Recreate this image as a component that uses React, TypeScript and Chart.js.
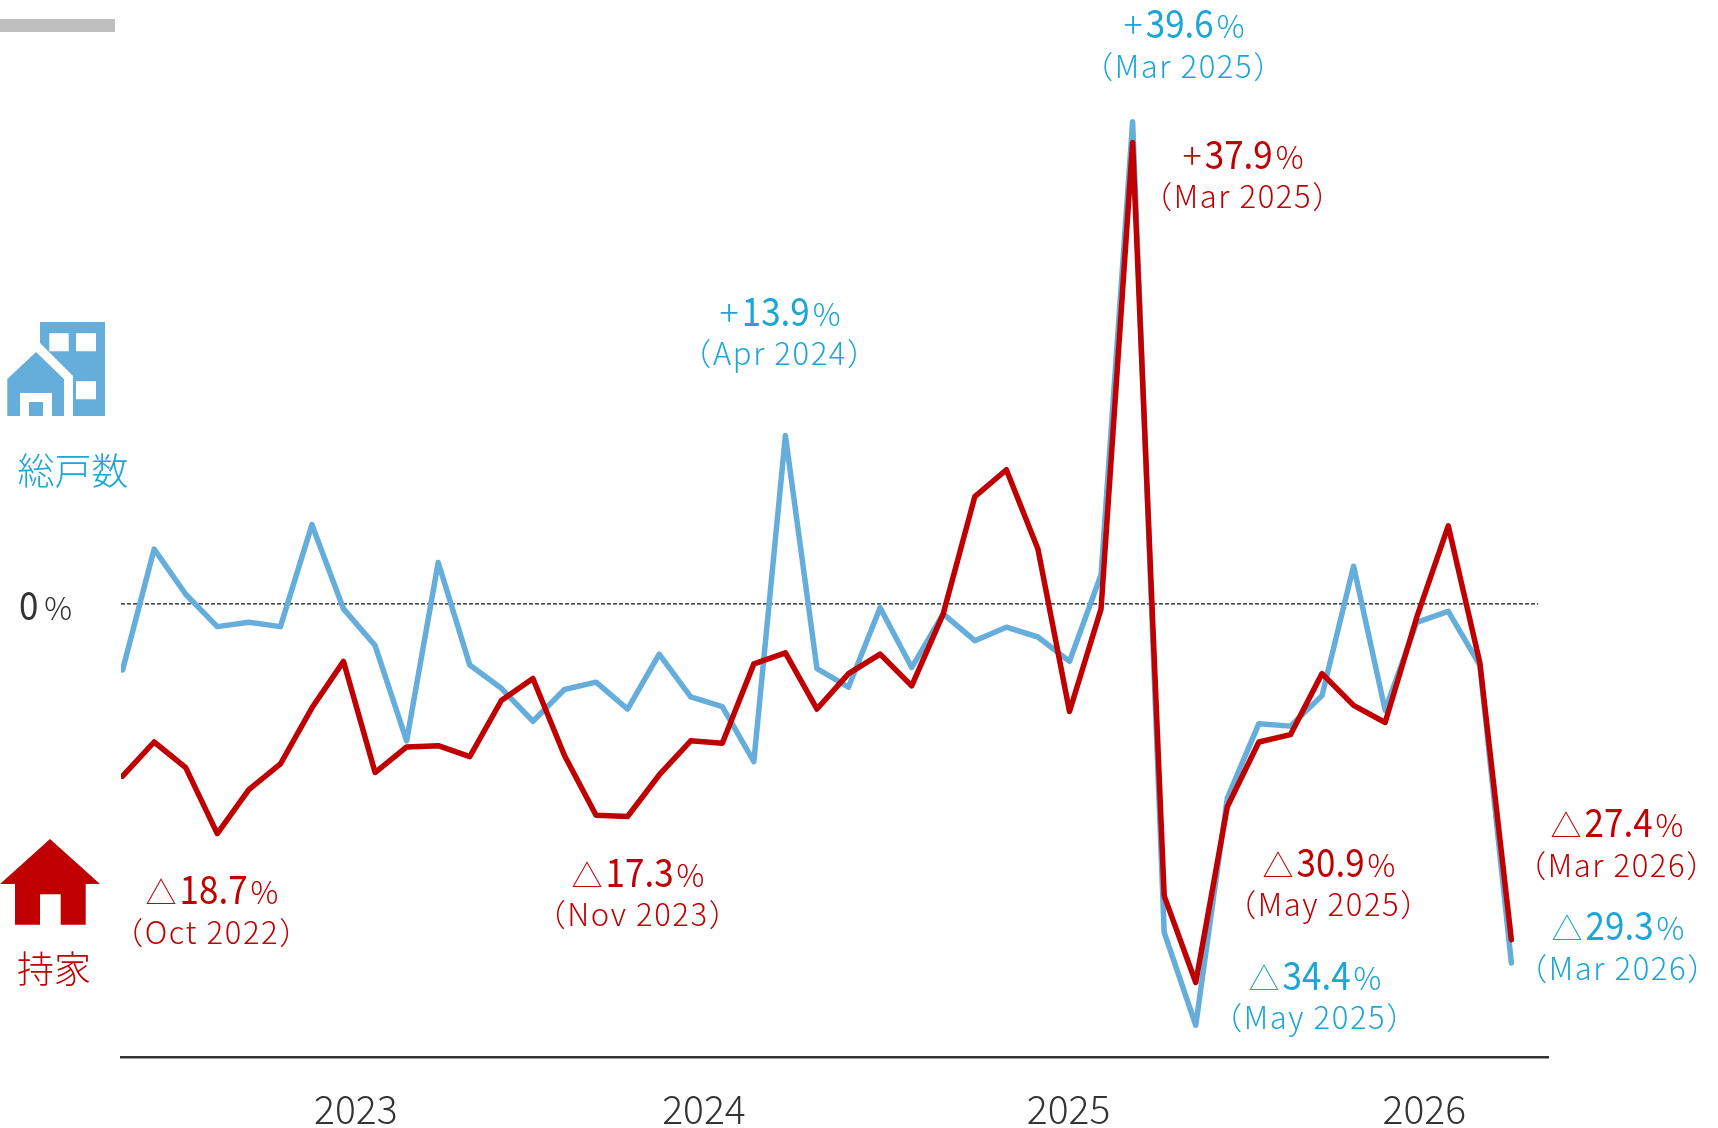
import React, { useEffect, useRef } from "react";
import { Chart, registerables } from "chart.js";

Chart.register(...registerables);

const months = [
  "Jul 2022","Aug 2022","Sep 2022","Oct 2022","Nov 2022","Dec 2022",
  "Jan 2023","Feb 2023","Mar 2023","Apr 2023","May 2023","Jun 2023","Jul 2023","Aug 2023","Sep 2023","Oct 2023","Nov 2023","Dec 2023",
  "Jan 2024","Feb 2024","Mar 2024","Apr 2024","May 2024","Jun 2024","Jul 2024","Aug 2024","Sep 2024","Oct 2024","Nov 2024","Dec 2024",
  "Jan 2025","Feb 2025","Mar 2025","Apr 2025","May 2025","Jun 2025","Jul 2025","Aug 2025","Sep 2025","Oct 2025","Nov 2025","Dec 2025",
  "Jan 2026","Feb 2026","Mar 2026",
];
const totalUnits = [
  -5.3,4.6,0.9,-1.75,-1.4,-1.75,6.6,-0.3,-3.3,-11.1,3.5,-4.9,-6.8,-9.5,-6.9,-6.3,-8.5,-4.0,-7.5,-8.3,-12.8,13.9,-5.2,-6.7,-0.2,-5.1,-0.7,-2.9,-1.8,-2.6,-4.6,2.5,39.6,-26.8,-34.4,-15.8,-9.7,-9.9,-7.4,3.2,-8.6,-1.4,-0.5,-4.9,-29.3,
];
const ownerOccupied = [
  -14.0,-11.2,-13.3,-18.7,-15.1,-13.0,-8.4,-4.6,-13.7,-11.6,-11.5,-12.4,-7.8,-6.0,-12.3,-17.2,-17.3,-13.9,-11.1,-11.3,-4.8,-3.9,-8.5,-5.6,-4.0,-6.6,-0.7,8.9,11.1,4.6,-8.7,-0.3,37.9,-23.8,-30.9,-16.5,-11.2,-10.6,-5.6,-8.2,-9.6,-1.0,6.5,-4.7,-27.4,
];
const yearLabels = ["2023", "2024", "2025", "2026"];
const yearTickMonths = [7.39, 18.42, 29.97, 41.24];

const BLUE_LINE = "#65AEDC";
const BLUE_TEXT = "#1AA6D6";
const RED = "#C00000";
const DARK = "#333333";
const FONT = '"Noto Sans CJK JP", "Noto Sans", sans-serif';

type Note = { prefix: string; value: string; date: string; color: string; cx: number; y1: number; y2: number };
const notes: Note[] = [
  { prefix: "+", value: "39.6", date: "（Mar 2025）", color: BLUE_TEXT, cx: 1184, y1: 26, y2: 67 },
  { prefix: "+", value: "37.9", date: "（Mar 2025）", color: RED, cx: 1243, y1: 157, y2: 197 },
  { prefix: "+", value: "13.9", date: "（Apr 2024）", color: BLUE_TEXT, cx: 780, y1: 314, y2: 354 },
  { prefix: "△", value: "18.7", date: "（Oct 2022）", color: RED, cx: 212, y1: 892, y2: 933 },
  { prefix: "△", value: "17.3", date: "（Nov 2023）", color: RED, cx: 638, y1: 875, y2: 915 },
  { prefix: "△", value: "30.9", date: "（May 2025）", color: RED, cx: 1329, y1: 865, y2: 905 },
  { prefix: "△", value: "34.4", date: "（May 2025）", color: BLUE_TEXT, cx: 1315, y1: 978, y2: 1018 },
  { prefix: "△", value: "27.4", date: "（Mar 2026）", color: RED, cx: 1617, y1: 825, y2: 866 },
  { prefix: "△", value: "29.3", date: "（Mar 2026）", color: BLUE_TEXT, cx: 1618, y1: 928, y2: 969 },
];

type Run = { t: string; font: string; yScale?: number };

function drawRuns(ctx: CanvasRenderingContext2D, runs: Run[], cx: number, y: number, color: string, gap: number) {
  ctx.fillStyle = color;
  ctx.textAlign = "left";
  ctx.textBaseline = "alphabetic";
  let w = gap * (runs.length - 1);
  for (const r of runs) {
    ctx.font = r.font;
    w += ctx.measureText(r.t).width;
  }
  let x = cx - w / 2;
  for (const r of runs) {
    ctx.font = r.font;
    ctx.save();
    ctx.translate(x, y);
    ctx.scale(1, r.yScale ?? 1);
    ctx.fillText(r.t, 0, 0);
    ctx.restore();
    ctx.font = r.font;
    x += ctx.measureText(r.t).width + gap;
  }
}

const notesPlugin = {
  id: "notes",
  afterDatasetsDraw(chart: any) {
    const ctx = chart.ctx as CanvasRenderingContext2D;
    ctx.save();
    const big = `400 35px ${FONT}`;
    const small = `300 31px ${FONT}`;
    const plus = `300 36px ${FONT}`;
    const date = `300 31px ${FONT}`;
    for (const n of notes) {
      drawRuns(
        ctx,
        [
          { t: n.prefix, font: n.prefix === "+" ? plus : small },
          { t: n.value, font: big, yScale: 1.13 },
          { t: "%", font: small },
        ],
        n.cx,
        n.y1 + 12,
        n.color,
        3,
      );
      ctx.textAlign = "center";
      ctx.textBaseline = "alphabetic";
      ctx.font = date;
      ctx.fillStyle = n.color;
      (ctx as any).letterSpacing = "1.6px";
      ctx.fillText(n.date, n.cx, n.y2 + 11);
      (ctx as any).letterSpacing = "0px";
    }
    drawRuns(ctx, [{ t: "0", font: big, yScale: 1.13 }, { t: "%", font: small }], 45.5, 620, DARK, 6);
    ctx.textAlign = "center";
    ctx.textBaseline = "alphabetic";
    ctx.font = `300 37px ${FONT}`;
    ctx.fillStyle = BLUE_TEXT;
    ctx.fillText("総戸数", 73, 485);
    ctx.fillStyle = RED;
    ctx.fillText("持家", 54, 983);
    ctx.restore();
  },
};

export default function App() {
  const ref = useRef<HTMLCanvasElement>(null);
  useEffect(() => {
    const chart = new Chart(ref.current!, {
      type: "line",
      data: {
        datasets: [
          {
            label: "持家",
            data: ownerOccupied.map((y, i) => ({ x: i, y })),
            borderColor: RED,
            borderWidth: 5.5,
            pointRadius: 0,
            tension: 0,
            borderJoinStyle: "round",
            borderCapStyle: "round",
            order: 1,
          },
          {
            label: "総戸数",
            data: totalUnits.map((y, i) => ({ x: i, y })),
            borderColor: BLUE_LINE,
            borderWidth: 5.5,
            pointRadius: 0,
            tension: 0,
            borderJoinStyle: "round",
            borderCapStyle: "round",
            order: 2,
          },
          {
            label: "0%",
            data: [{ x: -0.05, y: 0.12 }, { x: months.length - 1 + 0.85, y: 0.12 }],
            borderColor: "#111111",
            borderWidth: 1.2,
            borderDash: [4, 2],
            pointRadius: 0,
            order: 3,
          },
        ],
      },
      options: {
        animation: false,
        responsive: false,
        events: [],
        layout: { padding: { left: 121, right: 170, top: 7, bottom: 0 } },
        plugins: { legend: { display: false }, tooltip: { enabled: false } },
        scales: {
          x: {
            type: "linear",
            min: -0.05,
            max: 45.16,
            grid: { display: false, drawTicks: false },
            border: { color: DARK, width: 2.5 },
            afterBuildTicks: (s: any) => {
              s.ticks = yearTickMonths.map((value) => ({ value }));
            },
            afterFit: (s: any) => {
              s.height = 71;
            },
            ticks: {
              autoSkip: false,
              maxRotation: 0,
              padding: 29,
              color: DARK,
              font: { family: FONT, size: 39, weight: "300" },
              callback: (_v: any, i: number) => yearLabels[i],
            },
          },
          y: {
            display: false,
            min: -37,
            max: 49,
          },
        },
      },
      plugins: [notesPlugin],
    } as any);
    return () => chart.destroy();
  }, []);

  return (
    <div style={{ position: "absolute", left: 0, top: 0, width: 1718, height: 1128, background: "#fff" }}>
      <canvas ref={ref} width={1718} height={1128} style={{ display: "block", position: "absolute", left: 0, top: 0 }} />
      <svg width={1718} height={1128} style={{ position: "absolute", left: 0, top: 0, pointerEvents: "none" }}>
        <rect x={0} y={19} width={115} height={13} fill="#BFBFBF" />
        <path fillRule="evenodd" fill={BLUE_LINE} d="M40 322H105V416H73V376L40 343Z M49.3 333.3V351.3H68.7V333.3Z M76 333.3V351.3H96V333.3Z M76 381.3V399.3H96V381.3Z" />
        <path fillRule="evenodd" fill={BLUE_LINE} d="M7.3 379L36 352L64 379V416H52V393H20V416H7.3Z" />
        <rect x={29} y={402} width={14} height={14} fill={BLUE_LINE} />
        <path fill={RED} d="M50 839L100 884H85.7V924.7H60.7V894.3H40V924.7H15V884H0Z" />
      </svg>
    </div>
  );
}
